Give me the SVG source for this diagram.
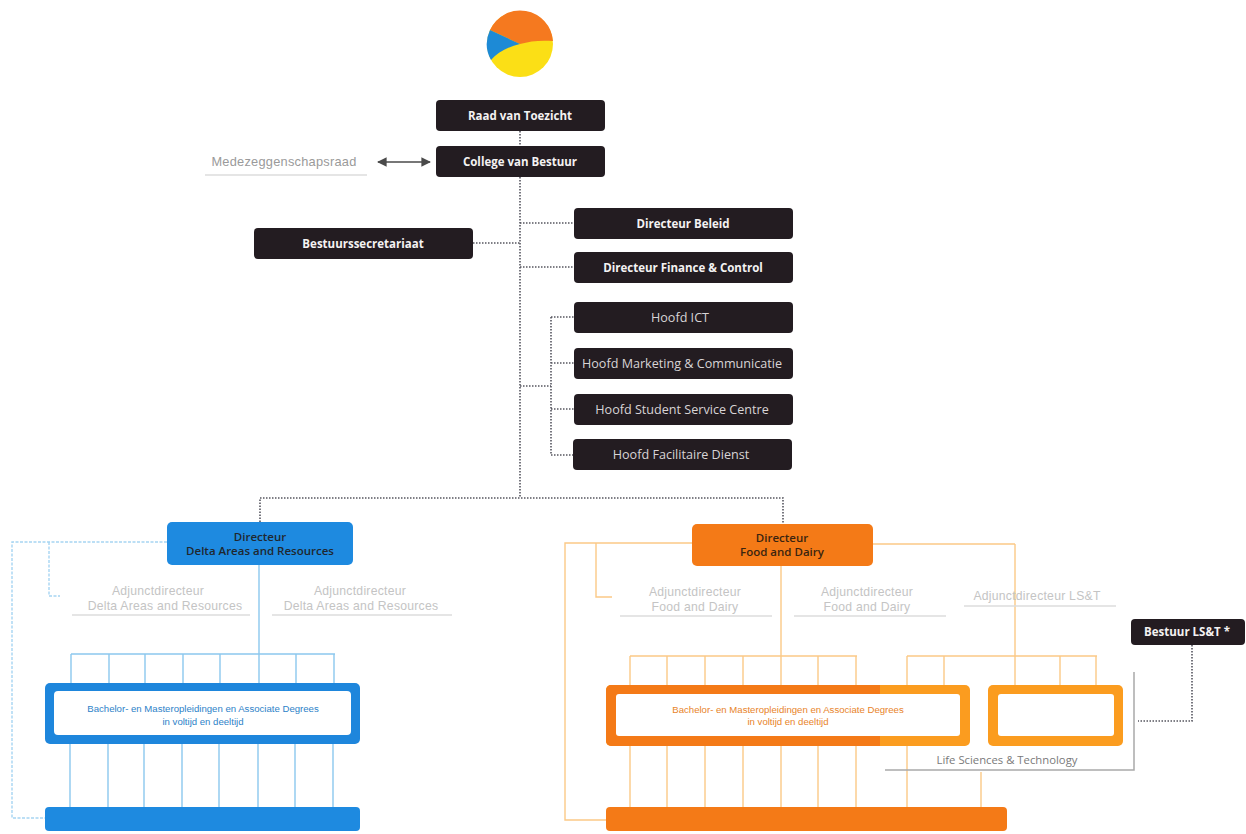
<svg xmlns="http://www.w3.org/2000/svg" width="1246" height="834" viewBox="0 0 1246 834">
<defs>
<marker id="ah" viewBox="0 0 10 10" refX="9" refY="5" markerWidth="6" markerHeight="6" markerUnits="strokeWidth" orient="auto-start-reverse"><path d="M0 0L10 5L0 10z" fill="#4a4a4a"/></marker>
</defs>
<style>
text{font-family:"Open Sans","Liberation Sans",sans-serif;text-anchor:middle}
.dk{fill:#231c21}
.w{fill:#f4f2f2;font-size:11.5px;font-weight:700}
.wl{fill:#d8d4d6;font-size:12.6px;font-weight:400}
.g{fill:#c4c4c4;font-family:"Liberation Sans",sans-serif;font-size:12.2px;letter-spacing:.25px}
.lb{font-family:"Liberation Sans",sans-serif;font-size:9.6px}
.u{stroke:#dcdcdc;stroke-width:1.5;fill:none}
.dot{stroke:#55555f;stroke-width:1.6;stroke-dasharray:1.5 1.5;fill:none}
.b{stroke:#8cc8ee;stroke-width:1.4;fill:none}
.bd{stroke:#a6d5f2;stroke-width:1.4;stroke-dasharray:3 1.5;fill:none}
.o{stroke:#fbc987;stroke-width:1.4;fill:none}
.dir{fill:#20272e;font-size:11.5px;font-weight:600}
</style>
<rect width="1246" height="834" fill="#fff"/>

<g id="connectors">
<path class="dot" d="M520 131V146M520 177V498M260 522V498H783V524"/>
<path class="dot" d="M520 223H574M473 243H520M520 267H574M520 386H551M551 317V455M551 317H574M551 363H574M551 409H574M551 455H573"/>
<path d="M378 162H430" stroke="#4a4a4a" stroke-width="1.6" fill="none" marker-start="url(#ah)" marker-end="url(#ah)"/>
<path class="b" d="M259 565V683M71 654H335M109 654V683M145 654V683M183 654V683M220 654V683M296 654V683M334 654V683M71 654V683"/>
<path class="b" d="M70 744V807M108 744V807M144 744V807M182 744V807M219 744V807M258 744V807M295 744V807M333 744V807"/>
<path class="bd" d="M167 542H12V818H45M49 542V596H60"/>
<path class="o" d="M781 566V685M630 656H857M630 656V685M667 656V685M705 656V685M743 656V685M818 656V685M856 656V685"/>
<path class="o" d="M907 656H1097M907 656V685M944 656V685M1060 656V685M1096 656V685M1015 544V685M873 544H1015"/>
<path class="o" d="M630 746V807M667 746V807M705 746V807M743 746V807M781 746V807M818 746V807M856 746V807M907 746V807M981 772V807"/>
<path class="o" d="M692 543H565V820H606M596 543V597H612"/>
<path d="M885 770H1134V672" stroke="#a9a9a9" stroke-width="1.5" fill="none"/>
<path class="dot" d="M1192 645V721H1138"/>
</g>

<g id="logo">
<circle cx="520" cy="44" r="33" fill="#fbdf16"/>
<path d="M490 30A33 33 0 0 1 553 41C541 40 530 41 520 44Z" fill="#f5791f"/>
<path d="M490 30L520 44C507 47 497 53 491 60A33 33 0 0 1 490 30Z" fill="#1d8ad6"/>
</g>

<g id="raad"><rect class="dk" x="436" y="100" width="169" height="31" rx="4"/><text class="w" x="520" y="120">Raad van Toezicht</text></g>
<g id="college"><rect class="dk" x="436" y="146" width="169" height="31" rx="4"/><text class="w" x="520" y="166">College van Bestuur</text></g>
<g id="mzr"><text class="g" x="284" y="166" style="fill:#9a9a9a;font-size:12.8px">Medezeggenschapsraad</text><path class="u" d="M205 175H367"/></g>
<g id="beleid"><rect class="dk" x="574" y="208" width="219" height="31" rx="4"/><text class="w" x="683" y="228">Directeur Beleid</text></g>
<g id="finance"><rect class="dk" x="574" y="252" width="219" height="31" rx="4"/><text class="w" x="683" y="272">Directeur Finance &amp; Control</text></g>
<g id="secretariaat"><rect class="dk" x="254" y="228" width="219" height="31" rx="4"/><text class="w" x="363" y="248">Bestuurssecretariaat</text></g>
<g id="ict"><rect class="dk" x="574" y="302" width="219" height="31" rx="4"/><text class="wl" x="680" y="322">Hoofd ICT</text></g>
<g id="marketing"><rect class="dk" x="574" y="348" width="219" height="31" rx="4"/><text class="wl" x="682" y="368">Hoofd Marketing &amp; Communicatie</text></g>
<g id="student"><rect class="dk" x="574" y="394" width="219" height="31" rx="4"/><text class="wl" x="682" y="414">Hoofd Student Service Centre</text></g>
<g id="facilitair"><rect class="dk" x="573" y="439" width="219" height="31" rx="4"/><text class="wl" x="681" y="459">Hoofd Facilitaire Dienst</text></g>

<g id="dir-blue"><rect x="167" y="522" width="186" height="43" rx="5" fill="#1e8ae0"/><text class="dir" x="260" y="541">Directeur</text><text class="dir" x="260" y="555">Delta Areas and Resources</text></g>
<g id="adj-b1"><text class="g" x="158" y="595">Adjunctdirecteur</text><text class="g" x="165" y="609.500">Delta Areas and Resources</text><path class="u" d="M72 615H250"/></g>
<g id="adj-b2"><text class="g" x="360" y="595">Adjunctdirecteur</text><text class="g" x="361" y="609.500">Delta Areas and Resources</text><path class="u" d="M272 615H452"/></g>
<g id="opl-blue"><rect x="45" y="683" width="315" height="61" rx="5" fill="#1e86dc"/><rect x="54" y="691" width="297" height="44" rx="4" fill="#fff"/><text class="lb" x="203" y="712" fill="#2d82c8">Bachelor- en Masteropleidingen en Associate Degrees</text><text class="lb" x="203" y="725" fill="#2d82c8">in voltijd en deeltijd</text></g>
<g id="bar-blue"><rect x="45" y="807" width="315" height="24" rx="4" fill="#1e8ae0"/></g>

<g id="dir-orange"><rect x="692" y="524" width="181" height="42" rx="5" fill="#f47a17"/><text class="dir" x="782" y="542" style="fill:#3a2410">Directeur</text><text class="dir" x="782" y="556" style="fill:#3a2410">Food and Dairy</text></g>
<g id="adj-o1"><text class="g" x="695" y="596">Adjunctdirecteur</text><text class="g" x="695" y="610.500">Food and Dairy</text><path class="u" d="M620 616H772"/></g>
<g id="adj-o2"><text class="g" x="867" y="596">Adjunctdirecteur</text><text class="g" x="867" y="610.500">Food and Dairy</text><path class="u" d="M794 616H946"/></g>
<g id="adj-lst"><text class="g" x="1037" y="600">Adjunctdirecteur LS&amp;T</text><path class="u" d="M964 606H1116"/></g>
<g id="opl-orange"><rect x="606" y="685" width="364" height="61" rx="5" fill="#fb9c1f"/><path d="M611 685H880V746H611a5 5 0 0 1-5-5V690a5 5 0 0 1 5-5z" fill="#f47a17"/><rect x="616" y="694" width="344" height="42" rx="3" fill="#fff"/><text class="lb" x="788" y="713" fill="#e8842a">Bachelor- en Masteropleidingen en Associate Degrees</text><text class="lb" x="788" y="725" fill="#e8842a">in voltijd en deeltijd</text></g>
<g id="opl-lst"><rect x="988" y="685" width="135" height="61" rx="5" fill="#fb9c1f"/><rect x="998" y="694" width="116" height="42" rx="3" fill="#fff"/></g>
<g id="lst-label"><text x="1007" y="764" font-size="11.3" fill="#7a7a7a">Life Sciences &amp; Technology</text></g>
<g id="bar-orange"><rect x="606" y="807" width="401" height="24" rx="4" fill="#f47a17"/></g>
<g id="bestuur-lst"><rect class="dk" x="1131" y="619" width="114" height="26" rx="4"/><text class="w" x="1187" y="636">Bestuur LS&amp;T *</text></g>
</svg>
